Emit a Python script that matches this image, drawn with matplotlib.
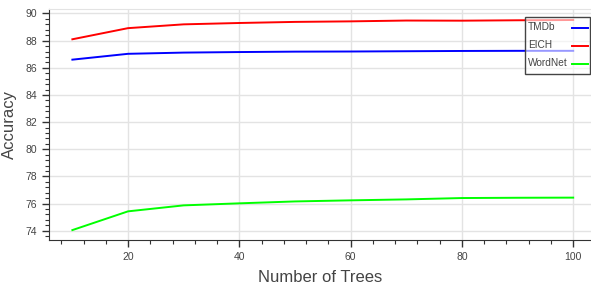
import numpy as np
import matplotlib.pyplot as plt
from matplotlib.ticker import MultipleLocator
from matplotlib.patches import Rectangle
from matplotlib.lines import Line2D

# =====================================
# DADOS
# =====================================

trees = [10, 20, 30, 40, 50, 60, 70, 80, 90, 100]
tmdb = [86.6, 87.03, 87.12, 87.16, 87.19, 87.2, 87.22, 87.24, 87.25, 87.25]
eich = [88.1, 88.92, 89.2, 89.3, 89.38, 89.42, 89.48, 89.47, 89.5, 89.52]
wordnet = [74.05, 75.43, 75.87, 76.02, 76.16, 76.24, 76.31, 76.41, 76.43, 76.44]

series_names = ["TMDb", "EICH", "WordNet"]
series_colors = ["#0000ff", "#ff0000", "#00ff00"]

# =====================================
# FIGURA
# =====================================

plt.rcParams['font.family'] = ['Liberation Sans', 'DejaVu Sans']

W, H = 591, 287
fig = plt.figure(figsize=(W/100, H/100), dpi=100)
ax = fig.add_axes([49/W, 1 - 240/H, 1 - 49/W, (240 - 9)/H])

for vals, name, col in zip([tmdb, eich, wordnet], series_names, series_colors):
    ax.plot(trees, vals, color=col, lw=1.4, label=name)

ax.set_xlim(5.8, 103.2)
ax.set_ylim(73.32, 90.33)

ax.xaxis.set_major_locator(MultipleLocator(20))
ax.xaxis.set_minor_locator(MultipleLocator(4))
ax.yaxis.set_major_locator(MultipleLocator(2))
ax.yaxis.set_minor_locator(MultipleLocator(0.4))

ax.grid(True, which='major', color='#e3e3e3', lw=1)
ax.set_axisbelow(True)

ax.spines['right'].set_visible(False)
ax.spines['top'].set_color('#e3e3e3')
ax.spines['left'].set_color('#333333')
ax.spines['bottom'].set_color('#333333')

ax.tick_params(which='major', length=5, width=1, color='#333333',
               labelsize=7.5, labelcolor='#444444')
ax.tick_params(which='minor', length=3, width=0.8, color='#333333')

ax.set_xlabel("Number of Trees", fontsize=12, color='#444444', labelpad=6)
ax.set_ylabel("Accuracy", fontsize=12, color='#444444', labelpad=6)

# =====================================
# LEGENDA (texto à esquerda, linha à direita)
# =====================================

def fx(px):
    return px / W

def fy(py):
    return 1 - py / H

box = Rectangle((fx(525), fy(74)), fx(590) - fx(525), fy(17) - fy(74),
                transform=fig.transFigure, facecolor='white', alpha=0.6,
                edgecolor='none', zorder=5)
fig.add_artist(box)
frame = Rectangle((fx(525), fy(74)), fx(590) - fx(525), fy(17) - fy(74),
                  transform=fig.transFigure, facecolor='none',
                  edgecolor='#444444', lw=1, zorder=6)
fig.add_artist(frame)

for i, (name, col) in enumerate(zip(series_names, series_colors)):
    yy = 27.5 + i * 18
    fig.text(fx(528), fy(yy), name, fontsize=7.3, color='#444444',
             ha='left', va='center', zorder=7)
    fig.add_artist(Line2D([fx(572), fx(588)], [fy(yy), fy(yy)],
                          transform=fig.transFigure, color=col, lw=1.4,
                          zorder=7))

plt.savefig("out.png", dpi=100)
